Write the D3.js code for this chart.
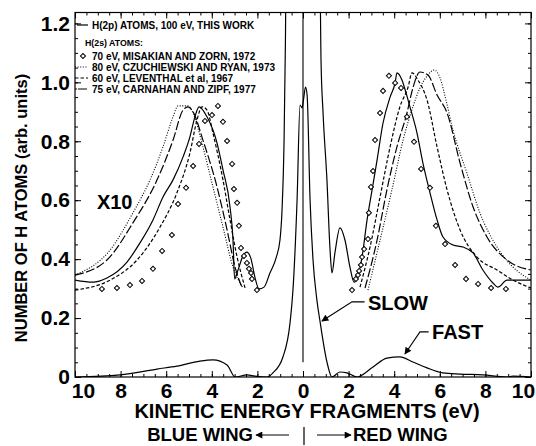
<!DOCTYPE html>
<html>
<head>
<meta charset="utf-8">
<script src="https://cdn.jsdelivr.net/npm/d3@7"></script>
<style>
  body { margin: 0; background: #fff; }
  svg { display: block; font-family: 'Liberation Sans', Arial, Helvetica, sans-serif; }
</style>
</head>
<body>
<div id="chart"></div>
<script>
// energy in eV: negative = blue wing (left), positive = red wing (right)
const xTicks = [-10, -8, -6, -4, -2, 0, 2, 4, 6, 8, 10];
const yTicks = [0, 0.2, 0.4, 0.6, 0.8, 1.0, 1.2];

const legendTitle = "H(2s) ATOMS:";
const legendLabels = [
  "H(2p) ATOMS, 100 eV, THIS WORK",
  "70 eV, MISAKIAN AND ZORN, 1972",
  "80 eV, CZUCHIEWSKI AND RYAN, 1973",
  "60 eV, LEVENTHAL et al, 1967",
  "75 eV, CARNAHAN AND ZIPF, 1977"
];

// H(2p) this work, magnified x10
const thisWorkX10 = [
  [-10, 0.329], [-9.21, 0.322], [-8.6, 0.336], [-7.72, 0.39], [-7.15, 0.455], [-6.58, 0.533],
  [-6.14, 0.611], [-5.7, 0.669], [-5.26, 0.747], [-4.96, 0.815], [-4.74, 0.883], [-4.56, 0.917],
  [-4.21, 0.883], [-3.77, 0.794], [-3.51, 0.703], [-3.2, 0.577], [-3.07, 0.465], [-3.0, 0.333],
  [-2.85, 0.363], [-2.63, 0.411], [-2.46, 0.424], [-2.28, 0.401], [-2.11, 0.339], [-1.93, 0.299],
  [-1.71, 0.305], [-1.45, 0.353], [-1.18, 0.404], [-1.01, 0.465], [-0.92, 0.567], [-0.83, 0.804],
  [-0.77, 1.144], [-0.75, 1.3], [0.75, 1.3], [0.79, 1.076], [0.88, 0.896], [1.05, 0.669],
  [1.18, 0.441], [1.27, 0.353], [1.4, 0.421], [1.62, 0.506], [1.84, 0.465], [2.06, 0.373],
  [2.24, 0.322], [2.59, 0.407], [2.81, 0.533], [3.03, 0.635], [3.25, 0.737], [3.51, 0.862],
  [3.82, 0.95], [4.04, 0.998], [4.12, 1.032], [4.34, 1.008], [4.52, 0.964], [4.69, 0.917],
  [5.0, 0.828], [5.26, 0.726], [5.57, 0.625], [5.88, 0.533], [6.14, 0.475], [6.58, 0.448],
  [7.02, 0.441], [7.46, 0.421], [7.89, 0.363], [8.33, 0.319], [8.55, 0.305], [8.95, 0.329],
  [9.52, 0.329], [10, 0.329]
];

// H(2p) this work, unscaled
const thisWorkX1 = [
  [-10, 0], [-8.03, 0.007], [-6.4, 0.027], [-5.53, 0.037], [-4.52, 0.054], [-3.95, 0.058],
  [-3.33, 0.041], [-2.98, 0], [-2.46, 0.007], [-2.11, 0.003], [-1.58, 0], [-1.32, 0.014],
  [-0.88, 0.068], [-0.57, 0.183], [-0.44, 0.295], [-0.26, 0.601], [-0.13, 0.923], [-0.04, 0.913],
  [0.02, 0.94], [0.11, 0.984], [0.18, 0.957], [0.31, 0.601], [0.44, 0.397], [0.61, 0.261],
  [0.75, 0.187], [1.05, 0.051], [1.27, 0], [1.62, 0.017], [1.93, 0.014], [2.37, 0],
  [3.07, 0.034], [3.68, 0.064], [4.25, 0.068], [4.82, 0.051], [5.44, 0.031], [6.14, 0.014],
  [6.89, 0.01], [7.89, 0.007], [8.95, 0], [9.21, 0.003], [10, 0]
];

// 70 eV, Misakian and Zorn (points)
const misakian70 = [
  [-8.82, 0.299], [-8.16, 0.302], [-7.59, 0.312], [-7.06, 0.326], [-6.58, 0.367], [-6.18, 0.428],
  [-5.75, 0.482], [-5.48, 0.587], [-5.13, 0.642], [-4.82, 0.716], [-4.56, 0.791], [-4.3, 0.869],
  [-3.99, 0.889], [-3.73, 0.92], [-3.51, 0.866], [-3.33, 0.801], [-3.11, 0.723], [-3.03, 0.638],
  [-2.89, 0.591], [-2.81, 0.513], [-2.72, 0.438], [-2.59, 0.411], [-2.46, 0.387], [-2.37, 0.367],
  [-2.28, 0.353], [-2.24, 0.333], [-2.02, 0.295],
  [2.15, 0.295], [2.32, 0.333], [2.41, 0.346], [2.46, 0.36], [2.54, 0.38], [2.59, 0.407],
  [2.68, 0.434], [2.85, 0.468], [2.89, 0.557], [2.98, 0.645], [3.07, 0.699], [3.16, 0.804],
  [3.38, 0.896], [3.51, 0.971], [3.77, 1.022], [4.04, 0.998], [4.3, 0.981], [4.56, 0.883],
  [4.87, 0.798], [5.18, 0.706], [5.57, 0.642], [5.83, 0.513], [6.23, 0.451], [6.67, 0.38],
  [7.15, 0.333], [7.68, 0.316], [8.25, 0.302], [8.9, 0.299]
];

// 80 eV, Czuchiewski and Ryan
const czuchiewski80Blue = [
  [-10, 0.346], [-8.46, 0.431], [-7.46, 0.557], [-6.71, 0.669], [-6.14, 0.781], [-5.7, 0.883],
  [-5.48, 0.92], [-5.04, 0.92], [-4.82, 0.896], [-4.39, 0.781], [-3.95, 0.645], [-3.51, 0.509],
  [-3.07, 0.373], [-2.63, 0.302]
];
const czuchiewski80Red = [
  [2.85, 0.295], [3.38, 0.465], [3.9, 0.635], [4.39, 0.804], [4.82, 0.917], [5.13, 0.981],
  [5.48, 1.025], [5.75, 1.042], [6.01, 1.015], [6.27, 0.94], [6.58, 0.838], [7.19, 0.692],
  [7.76, 0.557], [8.51, 0.441], [9.21, 0.373], [10, 0.329]
];

// 60 eV, Leventhal et al
const leventhal60Blue = [
  [-10, 0.295], [-8.46, 0.329], [-7.28, 0.397], [-6.27, 0.509], [-5.53, 0.625], [-4.96, 0.76],
  [-4.65, 0.872], [-4.43, 0.917], [-4.21, 0.906], [-3.95, 0.828], [-3.51, 0.669], [-3.2, 0.533],
  [-2.89, 0.407], [-2.54, 0.302]
];
const leventhal60Red = [
  [2.5, 0.305], [2.94, 0.441], [3.38, 0.611], [3.82, 0.781], [4.25, 0.917], [4.61, 0.984],
  [4.78, 1.032], [5.04, 1.008], [5.44, 0.94], [5.88, 0.781], [6.32, 0.635], [6.89, 0.499],
  [7.63, 0.407], [8.51, 0.363], [9.21, 0.329], [10, 0.302]
];

// 75 eV, Carnahan and Zipf
const carnahan75Blue = [
  [-10, 0.346], [-8.6, 0.397], [-7.46, 0.523], [-6.4, 0.669], [-5.7, 0.804], [-5.26, 0.906],
  [-5.04, 0.917], [-4.82, 0.9], [-4.39, 0.804], [-3.77, 0.645], [-3.33, 0.499], [-2.98, 0.373],
  [-2.68, 0.305]
];
const carnahan75Red = [
  [2.72, 0.302], [3.25, 0.465], [3.68, 0.635], [4.12, 0.781], [4.56, 0.896], [4.82, 0.981],
  [5.13, 1.035], [5.48, 1.025], [5.88, 0.957], [6.32, 0.896], [6.89, 0.726], [7.46, 0.577],
  [8.07, 0.475], [8.95, 0.397], [10, 0.363]
];

// annotation anchors [E, value]
const slowLabel = { text: "SLOW", tip: [0.83, 0.19], elbow: [2.15, 0.255], at: [2.85, 0.251] };
const fastLabel = { text: "FAST", tip: [4.47, 0.078], elbow: [5.13, 0.153], at: [5.66, 0.153] };

const width = 536, height = 446;
const svg = d3.select("#chart").append("svg")
  .attr("width", width)
  .attr("height", height);

const x = d3.scaleLinear().domain([-10, 10]).range([75, 531]);
const y = d3.scaleLinear().domain([0, 1.237]).range([377, 12.5]);

const defs = svg.append("defs");
defs.append("clipPath").attr("id", "plot-clip")
  .append("rect")
  .attr("x", x(-10)).attr("y", y(1.237))
  .attr("width", x(10) - x(-10)).attr("height", y(0) - y(1.237));

defs.append("marker")
  .attr("id", "head")
  .attr("viewBox", "0 0 10 10")
  .attr("refX", 9).attr("refY", 5)
  .attr("markerWidth", 9).attr("markerHeight", 7)
  .attr("markerUnits", "userSpaceOnUse")
  .attr("orient", "auto")
  .append("path")
  .attr("d", "M0,0L10,5L0,10Z")
  .attr("fill", "#000");

// axes: ticks point inward on all four sides
const minorX = d3.range(-10, 10.01, 0.5);
const minorY = d3.range(0, 1.236, 0.05);

function styleAxis(g) {
  g.select(".domain").remove();
  g.selectAll(".tick line").attr("stroke", "#000").attr("stroke-width", 1);
}

svg.append("g").attr("transform", `translate(0,${y(0)})`)
  .call(d3.axisBottom(x).tickValues(minorX).tickSize(-3).tickFormat(""))
  .call(styleAxis);
svg.append("g").attr("transform", `translate(0,${y(1.237)})`)
  .call(d3.axisTop(x).tickValues(minorX).tickSize(-3).tickFormat(""))
  .call(styleAxis);
svg.append("g").attr("transform", `translate(0,${y(1.237)})`)
  .call(d3.axisTop(x).tickValues(xTicks).tickSize(-6).tickFormat(""))
  .call(styleAxis);
svg.append("g").attr("transform", `translate(${x(-10)},0)`)
  .call(d3.axisLeft(y).tickValues(minorY).tickSize(-3).tickFormat(""))
  .call(styleAxis);
svg.append("g").attr("transform", `translate(${x(10)},0)`)
  .call(d3.axisRight(y).tickValues(minorY).tickSize(-3).tickFormat(""))
  .call(styleAxis);
svg.append("g").attr("transform", `translate(${x(10)},0)`)
  .call(d3.axisRight(y).tickValues(yTicks).tickSize(-6).tickFormat(""))
  .call(styleAxis);

const xAxis = svg.append("g").attr("transform", `translate(0,${y(0)})`)
  .call(d3.axisBottom(x).tickValues(xTicks).tickSize(-6).tickPadding(6)
    .tickFormat(d => Math.abs(d)))
  .call(styleAxis);
xAxis.selectAll("text")
  .attr("font-size", 21).attr("font-weight", "bold").attr("fill", "#000")
  .attr("font-family", "'Liberation Sans', Arial, sans-serif")
  .attr("dx", d => d === -10 ? 8 : d === 10 ? -8 : 0);

const yAxis = svg.append("g").attr("transform", `translate(${x(-10)},0)`)
  .call(d3.axisLeft(y).tickValues(yTicks).tickSize(-6).tickPadding(5)
    .tickFormat(d => d === 0 ? "0" : d.toFixed(1)))
  .call(styleAxis);
yAxis.selectAll("text")
  .attr("font-size", 21).attr("font-weight", "bold").attr("fill", "#000")
  .attr("font-family", "'Liberation Sans', Arial, sans-serif");

// frame
svg.append("rect")
  .attr("x", x(-10)).attr("y", y(1.237))
  .attr("width", x(10) - x(-10)).attr("height", y(0) - y(1.237))
  .attr("fill", "none").attr("stroke", "#000").attr("stroke-width", 1.2);

// curves
const line = d3.line()
  .x(d => x(d[0]))
  .y(d => y(d[1]))
  .curve(d3.curveMonotoneX);

const plot = svg.append("g").attr("clip-path", "url(#plot-clip)");

const dashes = { solid: null, dotted: "1,1.6", dashed: "3.5,2", longdash: "9,2.5" };

const curves = [
  { data: thisWorkX10, style: "solid" },
  { data: thisWorkX1, style: "solid" },
  { data: czuchiewski80Blue, style: "dotted" },
  { data: czuchiewski80Red, style: "dotted" },
  { data: leventhal60Blue, style: "dashed" },
  { data: leventhal60Red, style: "dashed" },
  { data: carnahan75Blue, style: "longdash" },
  { data: carnahan75Red, style: "longdash" }
];

plot.selectAll("path.curve")
  .data(curves)
  .enter().append("path")
  .attr("class", "curve")
  .attr("d", d => line(d.data))
  .attr("fill", "none")
  .attr("stroke", "#000")
  .attr("stroke-width", d => d.style === "dotted" ? 1.1 : 1.2)
  .attr("stroke-dasharray", d => dashes[d.style]);

// vertical line at zero energy
plot.append("line")
  .attr("x1", x(0)).attr("x2", x(0))
  .attr("y1", y(1.237)).attr("y2", y(0.05))
  .attr("stroke", "#000").attr("stroke-width", 1.1);

const diamond = d3.symbol(d3.symbolSquare, 13);
plot.selectAll("path.pt")
  .data(misakian70)
  .enter().append("path")
  .attr("class", "pt")
  .attr("d", diamond)
  .attr("transform", d => `translate(${x(d[0])},${y(d[1])}) rotate(45)`)
  .attr("fill", "#fff")
  .attr("stroke", "#000")
  .attr("stroke-width", 1);

// legend
const legend = svg.append("g").attr("font-weight", "bold").attr("fill", "#000");
const rowY = [25, 56, 67, 78, 89];
const legendStyles = ["solid", "diamond", "dotted", "dashed", "longdash"];

legend.append("text")
  .attr("x", 85).attr("y", 43).attr("dy", "0.35em")
  .attr("font-size", 8.8)
  .text(legendTitle);

legendLabels.forEach((label, i) => {
  const ry = rowY[i];
  const st = legendStyles[i];
  if (st === "diamond") {
    legend.append("path")
      .attr("d", diamond)
      .attr("transform", `translate(83,${ry}) rotate(45)`)
      .attr("fill", "#fff").attr("stroke", "#000");
  } else {
    legend.append("line")
      .attr("x1", i === 0 ? 77 : 75).attr("x2", st === "longdash" ? 87 : 88)
      .attr("y1", ry).attr("y2", ry)
      .attr("stroke", "#000").attr("stroke-width", 1.2)
      .attr("stroke-dasharray", st === "longdash" ? "2,1,9" : dashes[st]);
  }
  legend.append("text")
    .attr("x", 92).attr("y", ry).attr("dy", "0.35em")
    .attr("font-size", 10)
    .text(label);
});

// X10 marker
svg.append("text")
  .attr("x", x(-9.04)).attr("y", y(0.594)).attr("dy", "0.35em")
  .attr("font-size", 20).attr("font-weight", "bold")
  .text("X10");

// SLOW / FAST annotations
[slowLabel, fastLabel].forEach(a => {
  svg.append("polyline")
    .attr("points", [a.at[0] - 0.15, a.elbow[0], a.tip[0]].map((e, i) =>
      [x(e), y(i === 2 ? a.tip[1] : a.elbow[1])].join(",")).join(" "))
    .attr("fill", "none").attr("stroke", "#000").attr("stroke-width", 1.1)
    .attr("marker-end", "url(#head)");
  svg.append("text")
    .attr("x", x(a.at[0])).attr("y", y(a.at[1])).attr("dy", "0.35em")
    .attr("font-size", 20).attr("font-weight", "bold")
    .text(a.text);
});

// bottom titles
svg.append("text")
  .attr("x", 307).attr("y", 411).attr("dy", "0.35em")
  .attr("text-anchor", "middle")
  .attr("font-size", 20).attr("font-weight", "bold")
  .text("KINETIC ENERGY FRAGMENTS (eV)");

const wingY = 435;
svg.append("text")
  .attr("x", x(0) - 50).attr("y", wingY).attr("dy", "0.35em")
  .attr("text-anchor", "end")
  .attr("font-size", 18.5).attr("font-weight", "bold")
  .text("BLUE WING");
svg.append("text")
  .attr("x", x(0) + 50).attr("y", wingY).attr("dy", "0.35em")
  .attr("font-size", 18.5).attr("font-weight", "bold")
  .text("RED WING");
svg.append("line")
  .attr("x1", x(0) - 14).attr("x2", x(0) - 47)
  .attr("y1", wingY).attr("y2", wingY)
  .attr("stroke", "#000").attr("stroke-width", 1.2)
  .attr("marker-end", "url(#head)");
svg.append("line")
  .attr("x1", x(0) + 14).attr("x2", x(0) + 48)
  .attr("y1", wingY).attr("y2", wingY)
  .attr("stroke", "#000").attr("stroke-width", 1.2)
  .attr("marker-end", "url(#head)");
svg.append("line")
  .attr("x1", x(0) + 1).attr("x2", x(0) + 1)
  .attr("y1", 427).attr("y2", 445)
  .attr("stroke", "#000").attr("stroke-width", 1.2);

// y title
svg.append("text")
  .attr("transform", "translate(27,208) rotate(-90)")
  .attr("text-anchor", "middle")
  .attr("font-size", 16.5).attr("font-weight", "bold")
  .text("NUMBER OF H ATOMS (arb. units)");
</script>
</body>
</html>
